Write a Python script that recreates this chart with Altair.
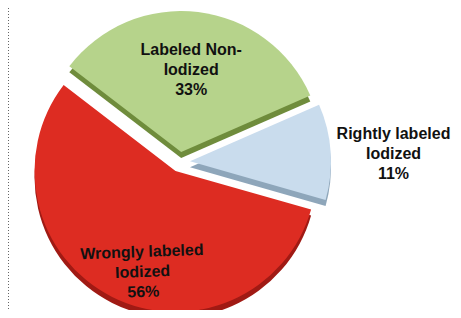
import math
import altair as alt
import pandas as pd

# ---- data ----
categories = ["Labeled Non-Iodized", "Rightly labeled Iodized", "Wrongly labeled Iodized"]
label_lines = [["Labeled Non-", "Iodized"], ["Rightly labeled", "Iodized"], ["Wrongly labeled", "Iodized"]]
values = [33, 11, 56]

# ---- styles ----
top_colors = ["#b6d38b", "#c9dced", "#dd2c22"]
side_colors = ["#6f8c3c", "#8ea6ba", "#a01a14"]
label_radius = [93, 219, 117]
label_dx = [0, -5, 15]
label_dy = [-20, -13, -14]
label_angle = [0, 0, 358]

START_DEG = 307.5
W, H = 445, 302
CX, CY = 172, 154
R = 141
EXPLODE = 10
DEPTH = 6

total = sum(values)
rows = []
cum = 0
for cat, lines, v in zip(categories, label_lines, values):
    s = cum / total * 100
    e = (cum + v) / total * 100
    rows.append({
        "category": cat,
        "value": v,
        "start": s,
        "end": e,
        "mid": (s + e) / 2,
        "label": "\n".join(lines + [f"{v}%"]),
    })
    cum += v
df = pd.DataFrame(rows)

theta_scale = alt.Scale(domain=[0, 100],
                        range=[math.radians(START_DEG), math.radians(START_DEG + 360)])

side_layers, top_layers, text_layers = [], [], []
for i, row in df.iterrows():
    sub = df[df["category"] == row["category"]]
    mid_rad = math.radians(START_DEG + row["mid"] / 100 * 360)
    ox = EXPLODE * math.sin(mid_rad)
    oy = -EXPLODE * math.cos(mid_rad)
    base = alt.Chart(sub)
    side_layers.append(
        base.mark_arc(radius=R, color=side_colors[i], strokeWidth=0).encode(
            theta=alt.Theta("start:Q", scale=theta_scale),
            theta2="end:Q",
            x=alt.value(CX + ox),
            y=alt.value(CY + oy + DEPTH),
        )
    )
    top_layers.append(
        base.mark_arc(radius=R, color=top_colors[i], strokeWidth=0).encode(
            theta=alt.Theta("start:Q", scale=theta_scale),
            theta2="end:Q",
            x=alt.value(CX + ox),
            y=alt.value(CY + oy),
        )
    )
    text_layers.append(
        base.mark_text(
            radius=label_radius[i], dx=label_dx[i], dy=label_dy[i], angle=label_angle[i],
            font="Liberation Sans", fontSize=16, fontWeight="bold", color="#111111",
            lineBreak="\n", lineHeight=20, align="center", baseline="middle",
        ).encode(
            theta=alt.Theta("mid:Q", scale=theta_scale),
            text="label:N",
            x=alt.value(CX),
            y=alt.value(CY),
        )
    )

border = alt.Chart(pd.DataFrame({"a": [0]})).mark_rule(
    color="#666666", strokeDash=[1, 2], strokeWidth=1
).encode(x=alt.value(0.5), y=alt.value(0), y2=alt.value(H))

chart = alt.layer(border, *side_layers, *top_layers, *text_layers).properties(
    width=W, height=H, padding=0, autosize=alt.AutoSizeParams(type="none")
).configure_view(stroke=None)

chart.save("out.html", embed_options={"renderer": "svg", "actions": False})
